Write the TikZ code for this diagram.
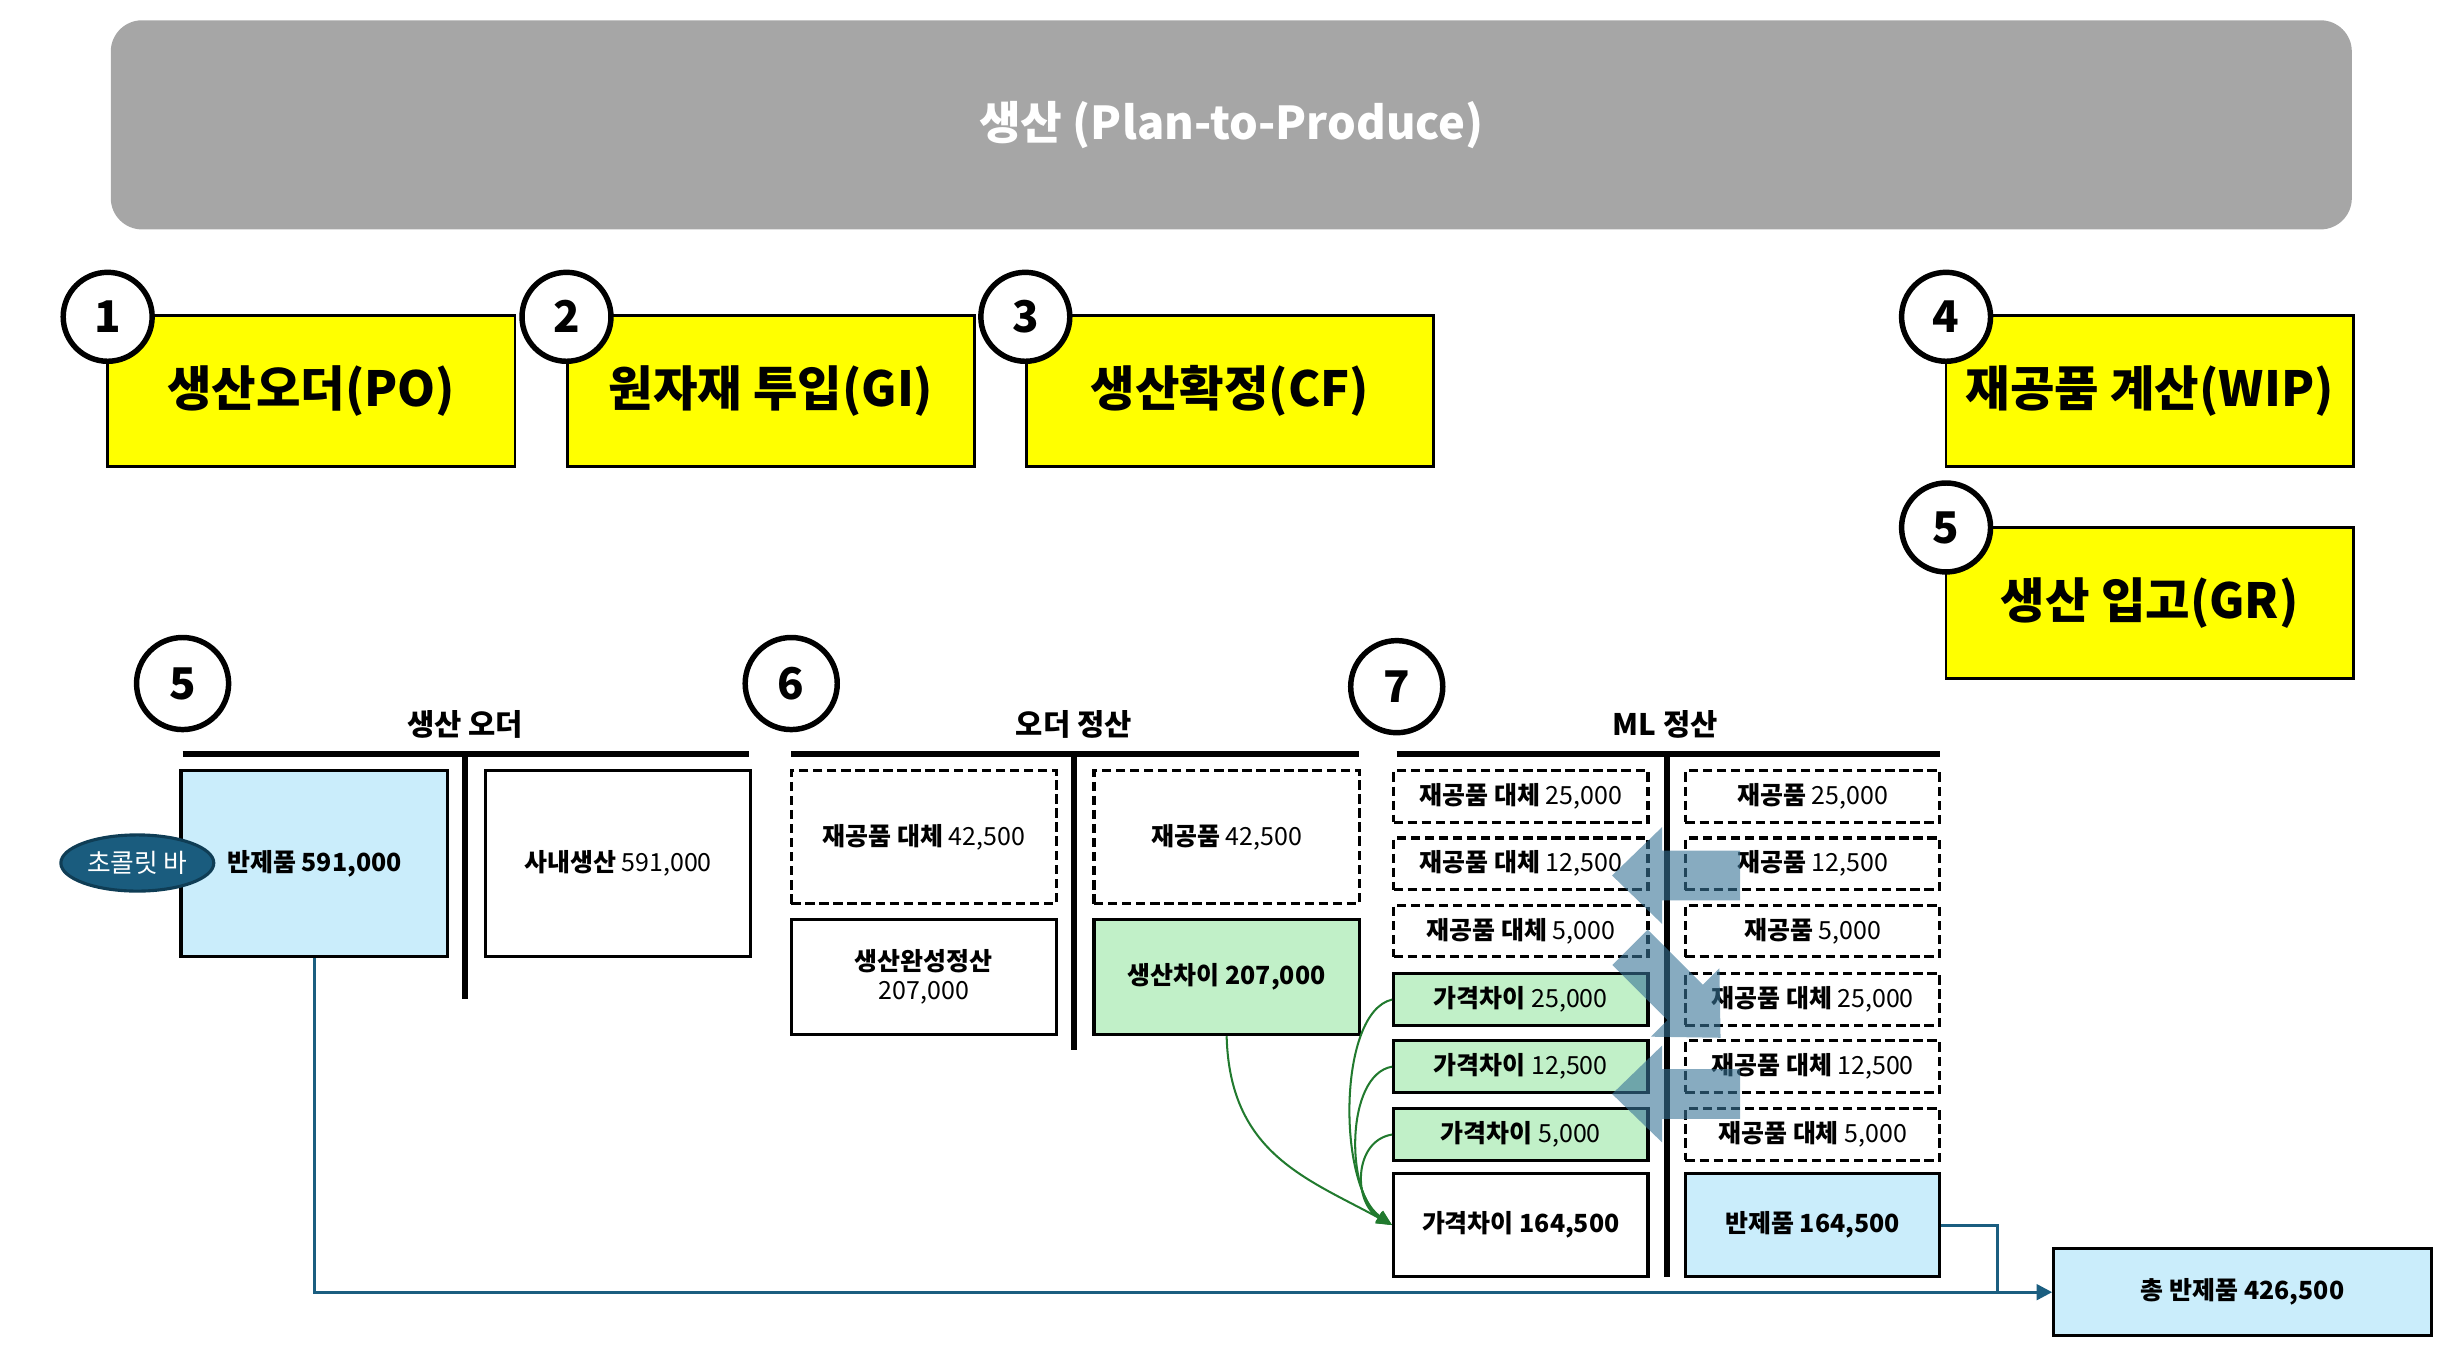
\documentclass[tikz,border=0pt]{standalone}
\usepackage{fontspec}
\setmainfont{Noto Sans CJK KR}
\usetikzlibrary{arrows.meta,shapes.geometric}
\definecolor{hdrgray}{HTML}{A6A6A6}
\definecolor{ylw}{HTML}{FFFF00}
\definecolor{ltblue}{HTML}{CAEDFB}
\definecolor{ltgreen}{HTML}{C1F0C8}
\definecolor{linkblue}{HTML}{1B5E80}
\definecolor{ovalfill}{HTML}{1A5C7E}
\definecolor{ovaledge}{HTML}{0F3D55}
\definecolor{curvegreen}{HTML}{217A2E}
\definecolor{blockblue}{RGB}{55,115,150}
\tikzset{
  header/.style={fill=hdrgray, rounded corners=20pt, minimum width=1436pt, minimum height=134pt, inner sep=0pt,
    text=white, font=\fontsize{29}{34}\selectfont\bfseries},
  ybox/.style={draw=black, line width=1.8pt, fill=ylw, minimum width=261pt, minimum height=97pt, inner sep=0pt,
    font=\fontsize{31}{36}\selectfont\bfseries},
  numc/.style={circle, draw=black, line width=3.5pt, fill=white, minimum size=57pt, inner sep=0pt,
    font=\fontsize{28}{30}\selectfont\bfseries},
  sect/.style={font=\fontsize{19}{22}\selectfont\bfseries, inner sep=0pt},
  tline/.style={line width=4pt},
  tbox/.style={draw=black, line width=2pt, inner sep=0pt, align=center, font=\fontsize{16}{19}\selectfont},
  dbox/.style={tbox, dash pattern=on 6pt off 3pt},
  link/.style={draw=linkblue, line width=2pt},
  gcurve/.style={draw=curvegreen, line width=1.3pt, -{Triangle[length=10pt,width=8pt]}},
  oval/.style={ellipse, draw=ovaledge, line width=2pt, fill=ovalfill, minimum width=98pt, minimum height=36pt,
    inner sep=0pt, text=white, font=\fontsize{16.5}{19}\selectfont}
}
\newcommand\blockarrow[3]{%
  \fill[blockblue, opacity=0.6, shift={(#1,#2)}, rotate=#3]
    (-41,-16) -- (9,-16) -- (9,-31) -- (41,0) -- (9,31) -- (9,16) -- (-41,16) -- cycle;}
\begin{document}
\begin{tikzpicture}[x=1pt,y=-1pt]
\useasboundingbox (0,0) rectangle (1568,864);

% header
\node[header] (hdr) at (789,80) {생산 (Plan-to-Produce)};

% yellow process boxes
\node[ybox] (b1) at (199.5,250.5) {생산오더(PO)};
\node[ybox] (b2) at (494,250.5) {원자재 투입(GI)};
\node[ybox] (b3) at (788,250.5) {생산확정(CF)};
\node[ybox] (b4) at (1377.5,250.5) {재공품 계산(WIP)};
\node[ybox] (b5) at (1377.5,386.5) {생산 입고(GR)};
\node[numc] (n1) at (69,203) {1};
\node[numc] (n2) at (363,203) {2};
\node[numc] (n3) at (657,203) {3};
\node[numc] (n4) at (1247,203) {4};
\node[numc] (n5) at (1247,338) {5};

% lower section circles and headings
\node[numc, minimum size=59pt] (m5) at (117,438) {5};
\node[numc, minimum size=59pt] (m6) at (507,438) {6};
\node[numc, minimum size=59pt] (m7) at (895,440) {7};
\node[sect] (h1) at (298,464) {생산 오더};
\node[sect] (h2) at (688,464) {오더 정산};
\node[sect] (h3) at (1067,464) {ML 정산};

% T-account lines
\coordinate (t1a) at (117,483); \coordinate (t1b) at (480,483);
\coordinate (t1c) at (298,483); \coordinate (t1d) at (298,640);
\coordinate (t2a) at (507,483); \coordinate (t2b) at (871,483);
\coordinate (t2c) at (688,483); \coordinate (t2d) at (688,673);
\coordinate (t3a) at (895,483); \coordinate (t3b) at (1243,483);
\coordinate (t3c) at (1068,483); \coordinate (t3d) at (1068,818);
\draw[tline] (t1a) -- (t1b); \draw[tline] (t1c) -- (t1d);
\draw[tline] (t2a) -- (t2b); \draw[tline] (t2c) -- (t2d);
\draw[tline] (t3a) -- (t3b); \draw[tline] (t3c) -- (t3d);

% section 1
\node[tbox, fill=ltblue, minimum width=171pt, minimum height=119pt] (bp1) at (201.5,553.5) {\bfseries 반제품 591,000};
\node[tbox, minimum width=170pt, minimum height=119pt] (sn) at (396,553.5) {\textbf{사내생산} 591,000};
\node[oval] (choc) at (88,553) {초콜릿 바};

% section 2
\node[dbox, minimum width=170pt, minimum height=85pt] (d1) at (592,536.5) {\textbf{재공품 대체} 42,500};
\node[tbox, minimum width=170pt, minimum height=74pt] (s1) at (592,626) {\textbf{생산완성정산}\\207,000};
\node[dbox, minimum width=170pt, minimum height=85pt] (d2) at (786,536.5) {\textbf{재공품} 42,500};
\node[tbox, fill=ltgreen, minimum width=170pt, minimum height=74pt] (g1) at (786,626) {\bfseries 생산차이 207,000};

% section 3 left
\node[dbox, minimum width=163pt, minimum height=33pt] (l1) at (974.5,510.5) {\textbf{재공품 대체} 25,000};
\node[dbox, minimum width=163pt, minimum height=33pt] (l2) at (974.5,553.5) {\textbf{재공품 대체} 12,500};
\node[dbox, minimum width=163pt, minimum height=33pt] (l3) at (974.5,596.5) {\textbf{재공품 대체} 5,000};
\node[tbox, fill=ltgreen, minimum width=163pt, minimum height=33pt] (l4) at (974.5,640.5) {\textbf{가격차이} 25,000};
\node[tbox, fill=ltgreen, minimum width=163pt, minimum height=33pt] (l5) at (974.5,683.5) {\textbf{가격차이} 12,500};
\node[tbox, fill=ltgreen, minimum width=163pt, minimum height=33pt] (l6) at (974.5,727) {\textbf{가격차이} 5,000};
\node[tbox, minimum width=163pt, minimum height=66pt] (l7) at (974.5,785) {\bfseries 가격차이 164,500};

% section 3 right
\node[dbox, minimum width=163pt, minimum height=33pt] (r1) at (1161.5,510.5) {\textbf{재공품} 25,000};
\node[dbox, minimum width=163pt, minimum height=33pt] (r2) at (1161.5,553.5) {\textbf{재공품} 12,500};
\node[dbox, minimum width=163pt, minimum height=33pt] (r3) at (1161.5,596.5) {\textbf{재공품} 5,000};
\node[dbox, minimum width=163pt, minimum height=33pt] (r4) at (1161.5,640.5) {\textbf{재공품 대체} 25,000};
\node[dbox, minimum width=163pt, minimum height=33pt] (r5) at (1161.5,683.5) {\textbf{재공품 대체} 12,500};
\node[dbox, minimum width=163pt, minimum height=33pt] (r6) at (1161.5,727) {\textbf{재공품 대체} 5,000};
\node[tbox, fill=ltblue, minimum width=163pt, minimum height=66pt] (r7) at (1161.5,785) {\bfseries 반제품 164,500};

% total
\node[tbox, fill=ltblue, minimum width=242pt, minimum height=56pt] (tot) at (1437,828) {\bfseries 총 반제품 426,500};

% blue connectors
\coordinate (jn) at (1280,828);
\draw[link] (r7.east) -| (jn);
\draw[link, -{Triangle[length=10pt,width=10pt]}] (bp1.south) |- (tot.west);

% green curves
\draw[gcurve] (g1.south) .. controls +(2,75) and +(-55,-30) .. (l7.west);
\draw[gcurve] (l4.west) .. controls +(-35,8) and +(-35,-25) .. (l7.west);
\draw[gcurve] (l5.west) .. controls +(-30,5) and +(-30,-20) .. (l7.west);
\draw[gcurve] (l6.west) .. controls +(-25,4) and +(-25,-14) .. (l7.west);

% translucent block arrows
\blockarrow{1074}{561}{180}
\blockarrow{1073.5}{636}{-45}
\blockarrow{1074}{701}{180}
\end{tikzpicture}
\end{document}
